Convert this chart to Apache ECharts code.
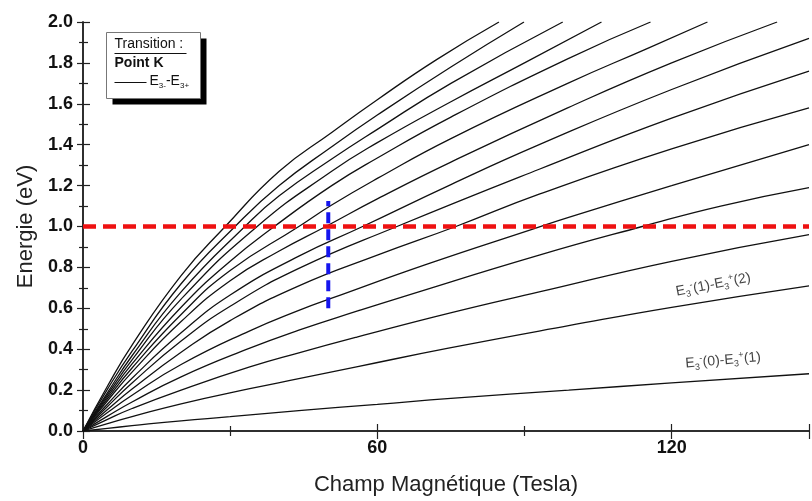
<!DOCTYPE html>
<html><head><meta charset="utf-8">
<script src="https://cdn.jsdelivr.net/npm/echarts@6/dist/echarts.min.js"></script>
<style>html,body{margin:0;padding:0;background:#fff}#c{width:812px;height:501px}</style>
</head><body><div id="c"></div>
<script>
// ---- data ----
const xTickValues = [0, 60, 120];
const yTickValues = [0.0, 0.2, 0.4, 0.6, 0.8, 1.0, 1.2, 1.4, 1.6, 1.8, 2.0];
const fieldRange = [0, 148];
const energyRange = [0, 2.0];

// transition curves E3-(n) - E3+(n+1), [field (T), energy (eV)]
const c0 = [[0,0],[5,0.013],[10,0.026],[20,0.05],[30,0.07],[44,0.10],[60,0.13],[75,0.16],[99,0.20],[120,0.235],[148,0.28]];
const c1 = [[0,0],[5,0.036],[10,0.07],[20,0.133],[34,0.207],[44,0.256],[56,0.315],[74.5,0.405],[99,0.515],[120,0.605],[148,0.71]];
const c2 = [[0,0],[5,0.057],[10,0.11],[20,0.20],[34,0.313],[44,0.382],[56,0.46],[74.5,0.575],[93,0.68],[120,0.83],[148,0.96]];
const c3 = [[0,0],[5,0.073],[10,0.142],[20,0.265],[34,0.405],[44,0.493],[56,0.587],[65,0.655],[93,0.86],[114,1.0],[130,1.1],[148,1.19]];
const c4 = [[0,0],[5,0.09],[10,0.175],[20,0.325],[34,0.49],[44,0.59],[51,0.652],[70,0.815],[92,0.99],[99,1.045],[120,1.20],[148,1.40]];
const c5 = [[0,0],[5,0.105],[10,0.205],[20,0.385],[30,0.54],[44,0.71],[60,0.86],[76,1.0],[93,1.158],[120,1.38],[148,1.58]];
const c6 = [[0,0],[5,0.12],[10,0.235],[20,0.44],[30,0.61],[44,0.795],[64,1.0],[93,1.28],[120,1.53],[148,1.76]];
const c7 = [[0,0],[5,0.132],[10,0.258],[20,0.48],[30,0.665],[44,0.855],[57,1.0],[75,1.205],[93,1.40],[120,1.67],[148,1.92]];
const c8 = [[0,0],[5,0.148],[10,0.288],[20,0.535],[30,0.735],[40,0.88],[49.5,1.0],[60,1.135],[75,1.315],[98.8,1.58],[120,1.80],[141.5,2.0]];
const c9 = [[0,0],[5,0.158],[10,0.308],[20,0.57],[30,0.785],[44,1.0],[50.7,1.105],[60,1.235],[75,1.43],[98.8,1.70],[115,1.87],[127.3,2.0]];
const c10 = [[0,0],[5,0.168],[10,0.328],[20,0.605],[30,0.83],[39,1.0],[50.7,1.2],[60,1.335],[75,1.535],[98.8,1.82],[115.7,2.0]];
const c11 = [[0,0],[5,0.178],[10,0.348],[20,0.645],[35.5,1.0],[50.7,1.27],[60,1.41],[75,1.61],[90,1.80],[105.7,2.0]];
const c12 = [[0,0],[5,0.188],[10,0.368],[20,0.68],[33,1.0],[40,1.15],[50.7,1.33],[60,1.475],[75,1.70],[97.8,2.0]];
const c13 = [[0,0],[5,0.205],[10,0.39],[20,0.72],[31,1.0],[40,1.2],[50.7,1.39],[60,1.545],[75,1.78],[89.9,2.0]];
const c14 = [[0,0],[5,0.22],[10,0.42],[20,0.76],[29,1.0],[40,1.27],[50.7,1.46],[60,1.62],[72,1.815],[84.8,2.0]];
const curves = [c0,c1,c2,c3,c4,c5,c6,c7,c8,c9,c10,c11,c12,c13,c14];

// reference lines
const refEnergy = 1.0;          // red dashed horizontal
const refField = 50;            // blue dashed vertical
const refFieldSpan = [0.6, 1.125];

// curve annotations [field, energy]
const label1Pos = [128.5, 0.715];
const label0Pos = [130.5, 0.345];

// ---- chart ----
const FONT = 'Liberation Sans, Arial, sans-serif';
const chart = echarts.init(document.getElementById('c'), null, {renderer:'canvas'});

const richStyles = {
  n:  {fontSize: 14, fontFamily: FONT, color: '#111'},
  sb: {fontSize: 9, fontFamily: FONT, color: '#111', padding: [9,0,0,0]},
  sp: {fontSize: 9, fontFamily: FONT, color: '#111', padding: [0,0,8,0]}
};

const curveSeries = curves.map(d => ({
  type: 'line', data: d, smooth: 0.5, symbol: 'none', silent: true,
  lineStyle: {color: '#111', width: 1.3}, z: 3, clip: true
}));

function labelSeries(pos, rot, text) {
  return {
    type: 'scatter', data: [pos], symbolSize: 1, silent: true, z: 7,
    itemStyle: {color: 'rgba(0,0,0,0)'},
    label: {show: true, position: 'inside', rotate: rot, formatter: text, rich: richStyles}
  };
}

const axisLineStyle = {color: '#222', width: 1.5};

const option = {
  animation: false,
  backgroundColor: '#fff',
  grid: {left: 83, top: 22, right: 0, bottom: 68, containLabel: false},
  xAxis: [{
    type: 'value', min: fieldRange[0], max: fieldRange[1], interval: 60,
    name: 'Champ Magnétique (Tesla)', nameLocation: 'middle', nameGap: 43,
    nameTextStyle: {fontFamily: FONT, fontSize: 22, color: '#222'},
    axisLine: {lineStyle: axisLineStyle},
    axisTick: {inside: true, length: 7, lineStyle: {color: '#222', width: 1.2}},
    minorTick: {show: true, splitNumber: 2, length: 5, lineStyle: {color: '#222', width: 1.2}},
    axisLabel: {fontFamily: FONT, fontSize: 18, fontWeight: 'bold', color: '#111', margin: 8,
      formatter: v => xTickValues.includes(v) ? String(v) : ''},
    splitLine: {show: false}
  }, {
    type: 'value', position: 'top', min: fieldRange[0], max: fieldRange[1], interval: 60,
    axisLine: {lineStyle: axisLineStyle},
    axisTick: {inside: true, length: 8, lineStyle: {color: '#222', width: 1.2}},
    minorTick: {show: true, splitNumber: 2, length: 5, lineStyle: {color: '#222', width: 1.2}},
    axisLabel: {show: false}, splitLine: {show: false}
  }],
  yAxis: [{
    type: 'value', min: energyRange[0], max: energyRange[1], interval: 0.2,
    name: 'Energie (eV)', nameLocation: 'middle', nameGap: 44,
    nameTextStyle: {fontFamily: FONT, fontSize: 22, color: '#222'},
    axisLine: {lineStyle: axisLineStyle},
    axisTick: {inside: true, length: 7, lineStyle: {color: '#222', width: 1.2}},
    minorTick: {show: true, splitNumber: 2, length: 5, lineStyle: {color: '#222', width: 1.2}},
    axisLabel: {fontFamily: FONT, fontSize: 18, fontWeight: 'bold', color: '#111', margin: 10,
      formatter: v => v.toFixed(1)},
    splitLine: {show: false}
  }, {
    type: 'value', position: 'right', min: energyRange[0], max: energyRange[1], interval: 0.2,
    axisLine: {lineStyle: axisLineStyle},
    axisTick: {inside: true, length: 6, lineStyle: {color: '#222', width: 1.2}},
    minorTick: {show: true, splitNumber: 2, length: 4, lineStyle: {color: '#222', width: 1.2}},
    axisLabel: {show: false}, splitLine: {show: false}
  }],
  series: [
    ...curveSeries,
    {type: 'line', data: [[fieldRange[0], refEnergy], [fieldRange[1], refEnergy]], symbol: 'none', silent: true,
      lineStyle: {color: '#ee1111', width: 4.5, type: [13, 7]}, z: 5},
    {type: 'line', data: [[refField, refFieldSpan[0]], [refField, refFieldSpan[1]]], symbol: 'none', silent: true,
      lineStyle: {color: '#1515ee', width: 4, type: [11, 6]}, z: 6},
    labelSeries(label1Pos, 11, '{n|E}{sb|3}{sp|-}{n|(1)-E}{sb|3}{sp|+}{n|(2)}'),
    labelSeries(label0Pos, 5, '{n|E}{sb|3}{sp|-}{n|(0)-E}{sb|3}{sp|+}{n|(1)}')
  ],
  graphic: [{
    type: 'group', left: 106, top: 32, silent: true,
    children: [
      {type: 'rect', shape: {x: 6, y: 6, width: 94, height: 66}, style: {fill: '#000'}},
      {type: 'rect', shape: {x: 0, y: 0, width: 94, height: 66}, style: {fill: '#fff', stroke: '#777', lineWidth: 1}},
      {type: 'text', x: 8, y: 5, style: {text: 'Transition :', font: '14px ' + FONT, fill: '#111'}},
      {type: 'line', shape: {x1: 8, y1: 21, x2: 80, y2: 21}, style: {stroke: '#111', lineWidth: 1}},
      {type: 'text', x: 8, y: 24, style: {text: 'Point K', font: 'bold 14px ' + FONT, fill: '#111'}},
      {type: 'line', shape: {x1: 8, y1: 50, x2: 40, y2: 50}, style: {stroke: '#111', lineWidth: 1.2}},
      {type: 'text', x: 43, y: 40, style: {
        text: '{n|E}{sb|3-}{n|-E}{sb|3+}',
        rich: {
          n: {fontSize: 14, fontFamily: FONT, fill: '#111', color: '#111'},
          sb: {fontSize: 8, fontFamily: FONT, fill: '#111', color: '#111', padding: [9,0,0,0]}
        }
      }}
    ]
  }]
};
chart.setOption(option);
</script>
</body></html>
